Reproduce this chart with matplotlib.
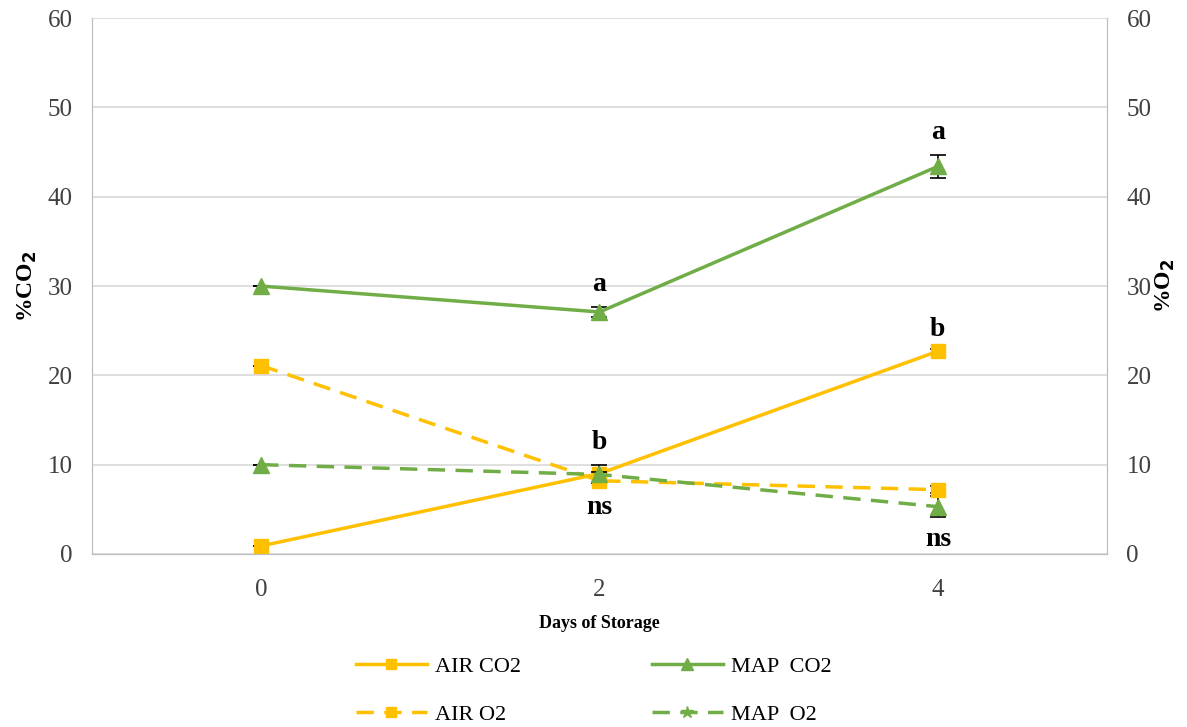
import numpy as np
import matplotlib.pyplot as plt
from matplotlib.lines import Line2D

plt.rcParams['font.family'] = ['Liberation Serif', 'DejaVu Serif']

# Dados das series
dias = ["0", "2", "4"]
air_co2 = [0.9, 9.0, 22.7]
air_co2_err = [0.0, 1.0, 0.3]
map_co2 = [30.0, 27.1, 43.4]
map_co2_err = [0.0, 0.6, 1.3]
air_o2 = [21.1, 8.2, 7.2]
air_o2_err = [0.0, 0.3, 0.4]
map_o2 = [10.0, 8.9, 5.3]
map_o2_err = [0.0, 0.3, 1.2]

# Letras de significancia: (indice do dia, valor de referencia, texto)
letras_co2 = [(1, map_co2[1] + map_co2_err[1], "a"),
              (2, map_co2[2] + map_co2_err[2], "a"),
              (1, air_co2[1] + air_co2_err[1], "b"),
              (2, air_co2[2], "b")]
letras_o2 = [(1, map_o2[1], "ns"),
             (2, map_o2[2], "ns")]

amarelo = "#FFC000"
verde = "#70AD47"
cinza = "#BFBFBF"
tracejado = (0, (5, 3))

x = np.arange(len(dias))

fig, ax = plt.subplots(figsize=(11.87, 7.27), dpi=100)
fig.subplots_adjust(left=0.0775, right=0.9326, top=0.975, bottom=0.238)
ax2 = ax.twinx()

for a in (ax, ax2):
    a.set_ylim(0, 60)
    a.set_yticks(range(0, 61, 10))
    a.tick_params(axis="y", length=0, labelsize=18, labelcolor="#404040", pad=14)
    for s in a.spines.values():
        s.set_color(cinza)
    a.spines["top"].set_visible(False)
ax.set_xlim(-0.5, 2.5)
ax.set_xticks(x)
ax.set_xticklabels(dias)
ax.tick_params(axis="x", length=0, labelsize=18, labelcolor="#404040", pad=18)
ax.yaxis.grid(True, color="#D9D9D9", lw=1.2)
ax.set_axisbelow(True)

ek = dict(ecolor="black", elinewidth=1.2, capsize=6, capthick=1.2)
ax.errorbar(x, air_co2, yerr=air_co2_err, color=amarelo, lw=2.5, marker="s",
            ms=10, zorder=3, **ek)
ax.errorbar(x, map_co2, yerr=map_co2_err, color=verde, lw=2.5, marker="^",
            ms=12, zorder=3, **ek)
ax2.errorbar(x, air_o2, yerr=air_o2_err, color=amarelo, lw=2.5, ls=tracejado,
             marker="s", ms=10, zorder=3, **ek)
ax2.errorbar(x, map_o2, yerr=map_o2_err, color=verde, lw=2.5, ls=tracejado,
             marker="^", ms=12, zorder=3, **ek)

for i, v, t in letras_co2:
    ax.annotate(t, (x[i], v), xytext=(0, 7), textcoords="offset points",
                ha="center", va="bottom", fontsize=20, fontweight="bold")
for i, v, t in letras_o2:
    ax2.annotate(t, (x[i], v), xytext=(0, -15), textcoords="offset points",
                 ha="center", va="top", fontsize=20, fontweight="bold")

ax.set_xlabel("Days of Storage", fontsize=13, fontweight="bold", labelpad=10)
ax.set_ylabel("%CO$_\\mathbf{2}$", fontsize=17, fontweight="bold", labelpad=6)
ax2.set_ylabel("%O$_\\mathbf{2}$", fontsize=17, fontweight="bold", labelpad=2)

handles = [
    Line2D([], [], color=amarelo, lw=2.5, marker="s", ms=7),
    Line2D([], [], color=amarelo, lw=2.5, ls=tracejado, marker="s", ms=7),
    Line2D([], [], color=verde, lw=2.5, marker="^", ms=8),
    Line2D([], [], color=verde, lw=2.5, ls=tracejado, marker="*", ms=9),
]
labels = ["AIR CO2", "AIR O2", "MAP  CO2", "MAP  O2"]
fig.legend(handles, labels, loc="center", bbox_to_anchor=(0.5, 0.05), ncol=2,
           frameon=False, fontsize=16, handlelength=3.2, columnspacing=5.9,
           labelspacing=1.25, handletextpad=0.35)

plt.savefig("out.png", dpi=100)
